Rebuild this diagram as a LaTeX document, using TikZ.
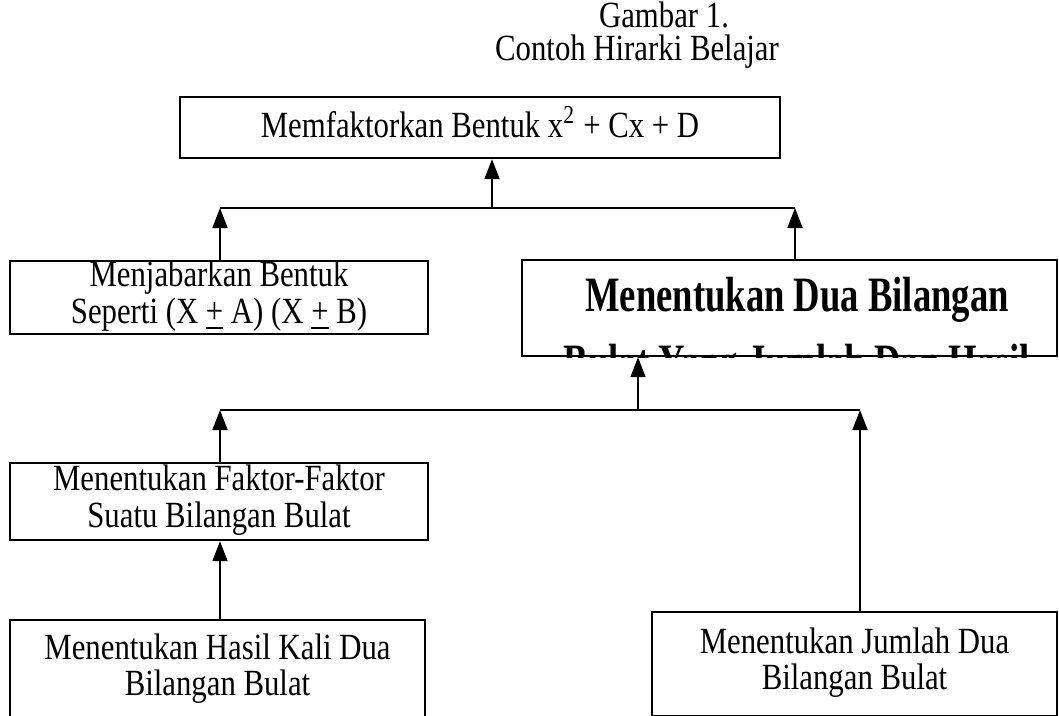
\documentclass[tikz,border=0pt]{standalone}
\usepackage{fontspec}
\usepackage{graphicx}
\setmainfont{Liberation Serif}
\usetikzlibrary{arrows.meta}
% teks direntang tegak
\newcommand{\regang}[2][1.2]{\scalebox{1}[#1]{\begin{tabular}{@{}c@{}}#2\end{tabular}}}
\tikzset{
  box/.style={draw, line width=0.8pt, inner sep=0pt,
    font=\fontsize{10.5}{10.2}\selectfont},
  up/.style={-{Triangle[length=2.4mm,width=1.8mm]}, line width=0.6pt},
}
\begin{document}
\begin{tikzpicture}[x=0.012cm,y=-0.012cm]
      \clip (0,0) rectangle (1059,715);
      \draw[font=\fontsize{10.5}{10.2}\selectfont]
        (664,20) node (judul){\regang{Gambar 1.}}
        (637,53) node (subjudul){\regang{Contoh Hirarki Belajar}};
      \draw
        (480,127.5) node[box, minimum width=7.2cm, minimum height=0.732cm] (fak)
          {\regang{Memfaktorkan Bentuk x\textsuperscript{2} + Cx + D}}
        (219,297.5) node[box, minimum width=5.016cm, minimum height=0.852cm] (jabar)
          {\regang{Menjabarkan Bentuk\\Seperti (X \underline{+} A) (X \underline{+} B)}}
        (789.5,308) node[box, minimum width=6.42cm, minimum height=1.152cm] (dua){}
        (219,501.5) node[box, minimum width=5.016cm, minimum height=0.924cm] (faktor)
          {\regang{Menentukan Faktor-Faktor\\Suatu Bilangan Bulat}}
        (217.5,670) node[box, minimum width=4.98cm, minimum height=1.2cm] (hasil)
          {\regang{Menentukan Hasil Kali Dua\\Bilangan Bulat}}
        (854.5,664) node[box, minimum width=4.86cm, minimum height=1.248cm] (jumlah)
          {\regang{Menentukan Jumlah Dua\\Bilangan Bulat}};
      \begin{scope}
        \clip (dua.south west) rectangle (dua.north east);
        \node[inner sep=0pt, font=\fontsize{12.5}{16.9}\selectfont\bfseries] (duateks)
          at (797,332) {\regang[1.35]{Menentukan Dua Bilangan\\Bulat Yang Jumlah Dan Hasil}};
      \end{scope}
      % tingkat atas
      \coordinate (b1l) at (220,208);
      \coordinate (b1m) at (492,208);
      \coordinate (b1r) at (795,208);
      % tingkat tengah
      \coordinate (b2l) at (220,410);
      \coordinate (b2m) at (638,410);
      \coordinate (b2r) at (860,410);
      \begin{scope}[line width=0.6pt]
        \draw (b1l) to (b1r);
        \draw[up] (b1m) to (b1m |- fak.south);
        \draw[up] (b1l |- jabar.north) to (b1l);
        \draw[up] (b1r |- dua.north) to (b1r);
        \draw (b2l) to (b2r);
        \draw[up] (b2m) to (b2m |- dua.south);
        \draw[up] (b2l |- faktor.north) to (b2l);
        \draw[up] (b2r |- jumlah.north) to (b2r);
        \draw[up] (b2l |- hasil.north) to (b2l |- faktor.south);
      \end{scope}
    \end{tikzpicture}
\end{document}
